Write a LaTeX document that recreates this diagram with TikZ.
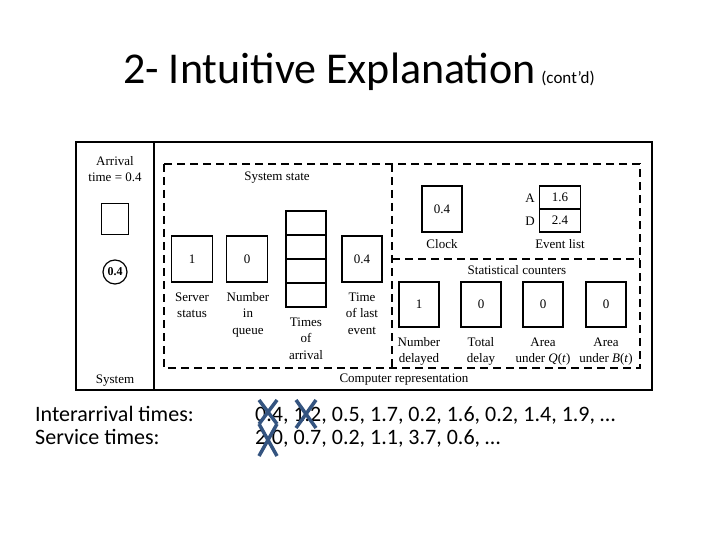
\documentclass[tikz,border=0pt]{standalone}
\usepackage{fontspec}
\setmainfont{Liberation Serif}
\newfontfamily\calibri{Carlito}
\definecolor{xblue}{RGB}{52,84,128}
\newcommand{\myline}[1]{\strut#1}
\begin{document}
\begin{tikzpicture}[x=1pt,y=-1pt,
  cell/.style={draw,line width=1.2pt,minimum width=40pt,minimum height=46pt,inner sep=0pt,font=\fontsize{13}{15}\selectfont},
  lbl/.style={align=center,font=\fontsize{13}{16.5}\selectfont,inner sep=0pt},
  dsh/.style={line width=1.6pt,dash pattern=on 8pt off 5pt},
  xmark/.style={line width=3.5pt,draw=xblue},
  slide/.style={font=\calibri\fontsize{22}{23}\selectfont,inner sep=0pt,anchor=base west}]
\useasboundingbox (0,0) rectangle (720,540);
\fill[white] (0,0) rectangle (720,540);
% title
\node[anchor=base west,inner sep=0pt,font=\calibri\fontsize{44}{50}\selectfont] (title) at (123,84) {2- Intuitive Explanation};
\node[anchor=base west,inner sep=0pt,font=\calibri\fontsize{17}{19}\selectfont,xshift=5pt] (contd) at (title.base east) {(cont’d)};
% frame
\draw[line width=1.3pt] (76,142) rectangle (652,390);
\draw[line width=1.3pt] (154,142) -- (154,390);
% system side
\node[lbl] (arr) at (115,169) {Arrival\\time = 0.4};
\node[cell,minimum width=27pt,minimum height=31pt] (cust) at (115,219) {};
\node[draw,circle,line width=1.2pt,minimum size=24pt,inner sep=0pt,font=\bfseries\fontsize{12}{14}\selectfont] (circ) at (115,272) {0.4};
\node[lbl] (sys) at (115,381) {System};
% dashed regions
\draw[dsh] (164,164) rectangle (640,368);
\draw[dsh] (392,164) -- (392,368);
\draw[dsh] (392,259) -- (640,259);
% system state
\node[lbl] (sstate) at (277,178) {System state};
\node[cell,minimum width=41pt] (server) at (192,259) {1};
\node[cell,minimum width=41pt] (queue) at (247,259) {0};
\node[cell,minimum width=40pt] (last) at (362,259) {0.4};
\node[cell,minimum height=24pt] (ta1) at (306,223) {};
\node[cell,minimum height=24pt] (ta2) at (306,247) {};
\node[cell,minimum height=24pt] (ta3) at (306,271) {};
\node[cell,minimum height=24pt] (ta4) at (306,295) {};
\node[lbl,anchor=north] (lserver) at (192,289.5) {\myline{Server}\\\myline{status}};
\node[lbl,anchor=north] (lqueue) at (248,289.5) {\myline{Number}\\\myline{in}\\\myline{queue}};
\node[lbl,anchor=north] (larr) at (306,314.5) {\myline{Times}\\\myline{of}\\\myline{arrival}};
\node[lbl,anchor=north] (llast) at (362,289.5) {\myline{Time}\\\myline{of last}\\\myline{event}};
% clock and event list
\node[cell] (clock) at (442,209) {0.4};
\node[lbl] (lclock) at (442,244) {Clock};
\node[cell,minimum width=41pt,minimum height=23pt] (evA) at (560,197.5) {1.6};
\node[cell,minimum width=41pt,minimum height=23pt] (evD) at (560,220.5) {2.4};
\node[lbl] (lA) at (530,198) {A};
\node[lbl] (lD) at (530,221) {D};
\node[lbl] (levent) at (560,244) {Event list};
% statistical counters
\node[lbl] (lstat) at (517,270) {Statistical counters};
\node[cell,minimum height=45pt] (c1) at (419,304.5) {1};
\node[cell,minimum height=45pt] (c2) at (481,304.5) {0};
\node[cell,minimum height=45pt] (c3) at (543,304.5) {0};
\node[cell,minimum height=45pt] (c4) at (606,304.5) {0};
\node[lbl,anchor=north] (l1) at (419,334.5) {\myline{Number}\\\myline{delayed}};
\node[lbl,anchor=north] (l2) at (481,334.5) {\myline{Total}\\\myline{delay}};
\node[lbl,anchor=north] (l3) at (543,334.5) {\myline{Area}\\\myline{under \textit{Q}(\textit{t})}};
\node[lbl,anchor=north] (l4) at (606,334.5) {\myline{Area}\\\myline{under \textit{B}(\textit{t})}};
\node[lbl] (comp) at (404,380) {Computer representation};
% bottom text
\node[slide] (ia) at (35,421) {Interarrival times:};
\node[slide] (st) at (35,444) {Service times:};
\node[slide] (ian) at (255,421) {0.4, 1.2, 0.5, 1.7, 0.2, 1.6, 0.2, 1.4, 1.9, …};
\node[slide] (stn) at (255,444) {2.0, 0.7, 0.2, 1.1, 3.7, 0.6, …};
% crosses
\draw[xmark] (259,400) -- (277,424) (277,400) -- (259,424);
\draw[xmark] (296,400) -- (316,428) (316,400) -- (296,428);
\draw[xmark] (259,424) -- (277,456) (277,424) -- (259,456);
\end{tikzpicture}
\end{document}
